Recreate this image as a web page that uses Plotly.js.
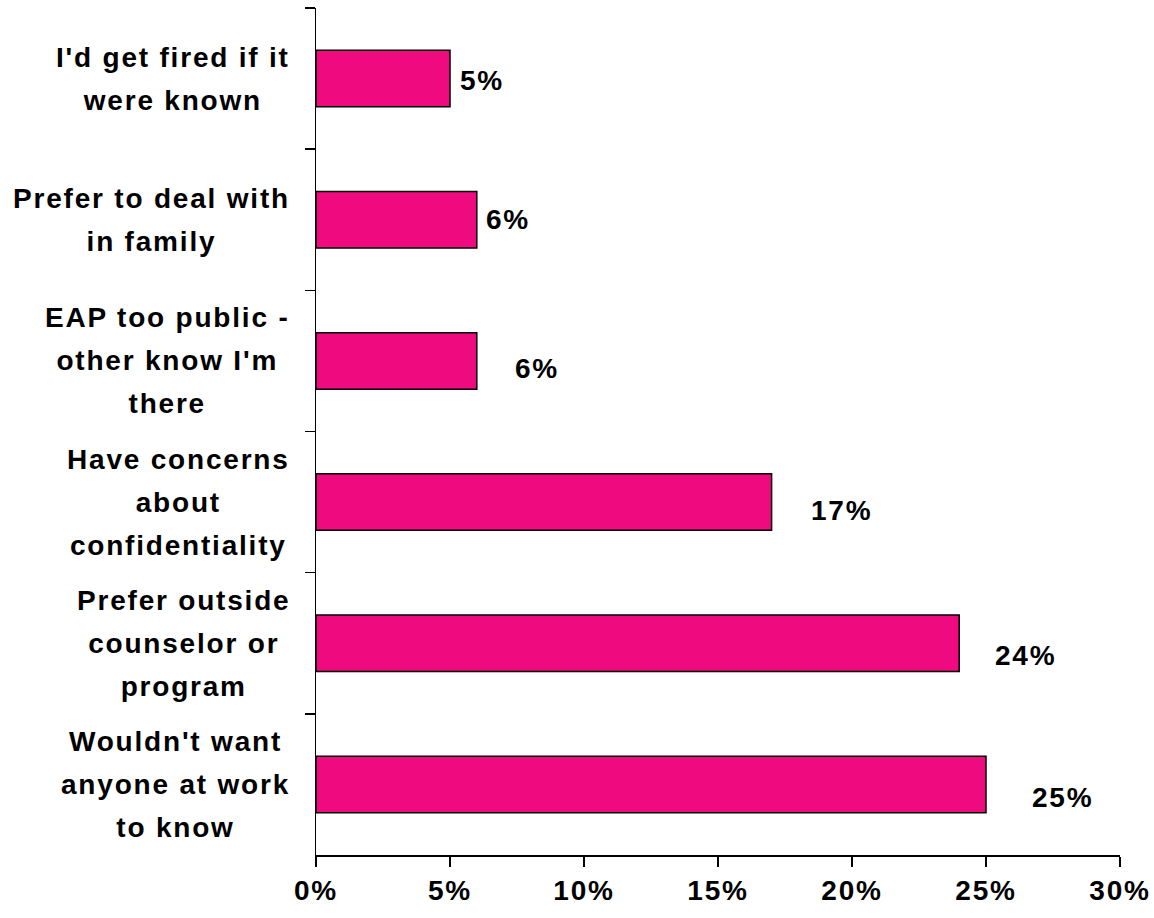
<!DOCTYPE html>
<html>
<head>
<meta charset="utf-8">
<script src="https://cdn.plot.ly/plotly-3.0.1.min.js"></script>
<style>
  body { margin: 0; background: #fff; }
  #chart { width: 1154px; height: 918px; }
  .annotation-text, .xtick text { letter-spacing: 1.8px; }
</style>
</head>
<body>
<div id="chart"></div>
<script>
// ---- data ----
const categories = [
  "I'd get fired if it were known",
  "Prefer to deal with in family",
  "EAP too public - other know I'm there",
  "Have concerns about confidentiality",
  "Prefer outside counselor or program",
  "Wouldn't want anyone at work to know"
];
const categoryLabels = [
  "I'd get fired if it<br>were known",
  "Prefer to deal with<br>in family",
  "EAP too public -<br>other know I'm<br>there",
  "Have concerns<br>about<br>confidentiality",
  "Prefer outside<br>counselor or<br>program",
  "Wouldn't want<br>anyone at work<br>to know"
];
const values = [5, 6, 6, 17, 24, 25];
const valueLabels = ["5%", "6%", "6%", "17%", "24%", "25%"];

// ---- styling / label placement (not data) ----
const labelXShift = [32, 31, 60, 70, 66, 76];
const labelYShift = [-2, 0, -8, -8, -12, -13];
const FONT = "Liberation Sans, Arial, sans-serif";

const trace = {
  type: 'bar',
  orientation: 'h',
  y: categories,
  x: values,
  width: 0.4,
  marker: { color: '#EF0A80', line: { color: '#000', width: 1.5 } },
  hoverinfo: 'none'
};

const annotations = [];
categories.forEach((c, i) => {
  annotations.push({
    xref: 'paper', yref: 'y',
    x: -24 / 804, y: c,
    xanchor: 'right', yanchor: 'middle', align: 'center',
    showarrow: false,
    text: categoryLabels[i].split('<br>').map(s => '<span style="font-size:28px">' + s + '</span>').join('<br>'),
    font: { family: FONT, size: 33, color: '#000', weight: 'bold' }
  });
  annotations.push({
    xref: 'x', yref: 'y',
    x: values[i], y: c,
    xanchor: 'center', yanchor: 'middle',
    xshift: labelXShift[i], yshift: labelYShift[i],
    showarrow: false,
    text: valueLabels[i],
    font: { family: FONT, size: 28, color: '#000', weight: 'bold' }
  });
});

const layout = {
  width: 1154, height: 918,
  margin: { l: 316, r: 34, t: 8, b: 63 },
  paper_bgcolor: '#fff', plot_bgcolor: '#fff',
  showlegend: false,
  xaxis: {
    range: [0, 30], dtick: 5, tick0: 0, ticksuffix: '%',
    showgrid: false, zeroline: false,
    showline: true, linecolor: '#000', linewidth: 1.5,
    ticks: 'outside', ticklen: 10, tickwidth: 1.5, tickcolor: '#000',
    tickfont: { family: FONT, size: 28, color: '#000', weight: 'bold' },
    fixedrange: true
  },
  yaxis: {
    type: 'category', autorange: 'reversed',
    tickson: 'boundaries',
    showgrid: false, zeroline: false,
    showline: true, linecolor: '#000', linewidth: 1.5,
    ticks: 'outside', ticklen: 10, tickwidth: 1.5, tickcolor: '#000',
    showticklabels: false,
    fixedrange: true
  },
  annotations: annotations
};

Plotly.newPlot('chart', [trace], layout, { displayModeBar: false, staticPlot: true });
</script>
</body>
</html>
